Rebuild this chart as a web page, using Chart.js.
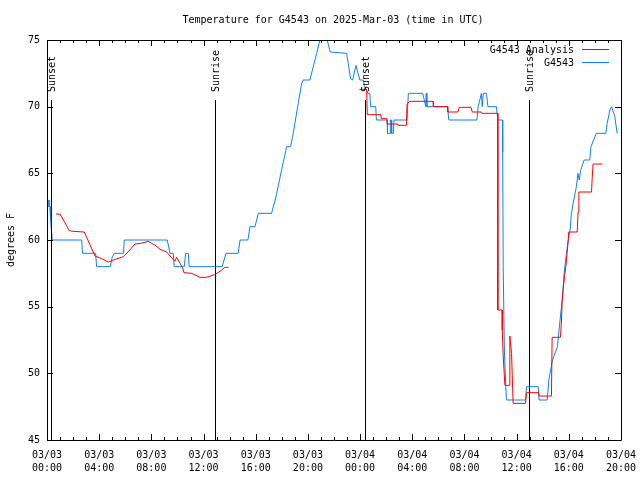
<!DOCTYPE html>
<html>
<head>
<meta charset="utf-8">
<title>Temperature for G4543</title>
<script src="https://cdn.jsdelivr.net/npm/chart.js@4/dist/chart.umd.min.js"></script>
<style>
  body { margin: 0; background: #fff; }
  canvas { display: block; }
</style>
</head>
<body>
<canvas id="tempChart" width="640" height="480"></canvas>
<script>
// hours since 03/03 00:00 UTC, temps in degrees F
const obsHours = [0.15, 0.15, 0.23, 0.23, 0.3, 0.36, 0.36, 2.66, 2.72, 3.73, 3.8, 4.85, 5.0, 5.15, 5.87, 5.92,
    9.22, 9.43, 9.68, 9.75, 10.52, 10.63, 10.83, 10.9, 13.43, 13.72, 14.66, 14.8, 15.4, 15.56, 15.94, 16.2,
    17.22, 17.34, 17.47, 17.72, 17.98, 18.24, 18.37, 18.67, 18.83, 19.0, 19.26, 19.52, 19.64, 20.15, 20.41,
    20.67, 20.92, 21.19, 21.48, 21.71, 22.97, 23.09, 23.27, 23.43, 23.68, 23.98, 24.24, 24.35, 24.6, 24.75,
    24.8, 25.2, 25.25, 26.08, 26.1, 26.3, 26.32, 26.4, 26.42, 26.55, 26.6, 27.6, 27.7, 28.8, 29.04, 29.07,
    29.12, 30.7, 30.8, 32.95, 33.05, 33.3, 33.36, 33.45, 33.69, 33.8, 34.45, 34.56, 34.92, 34.93, 34.97,
    35.06, 35.17, 35.22, 36.68, 36.76, 37.65, 37.72, 38.34, 38.47, 38.75, 39.13, 39.3, 39.5, 39.64, 39.82,
    40.0, 40.1, 40.2, 40.38, 40.58, 40.7, 40.8, 40.9, 41.17, 41.6, 41.7, 42.1, 42.84, 42.94, 43.15, 43.28,
    43.53, 43.7];
const obsTemps = [63, 62.5, 62.5, 61.6, 61.6, 60.5, 60, 60, 59, 59, 58, 58, 58.7, 59, 59, 60,
    60, 59, 59, 58, 58, 59, 59, 58, 58, 59, 59, 60, 60, 61, 61, 62,
    62, 62.5, 62.9, 64, 65.25, 66.4, 67, 67, 67.75, 68.75, 70.25, 71.75, 72, 72, 73,
    74, 75, 75.6, 75, 74.1, 74, 73.25, 72.1, 72, 73.1, 72, 72, 71.5, 71, 71,
    70, 70, 69, 69, 68, 68, 69, 69, 68, 68, 69, 69, 71, 71, 70, 71,
    70, 70, 69, 69, 70, 71, 70, 71, 71, 70, 70, 69, 69, 66.6, 58,
    51.75, 49, 48, 48, 49, 49, 48, 48, 49.5, 51, 52, 53.75, 55.5, 57.5, 59,
    60.25, 60.75, 62, 63, 64, 65, 64.5, 65.2, 66, 66, 67, 68, 68, 68.75, 69.75, 70,
    69.25, 68];

const anaHours = [0.69, 1.0, 1.71, 2.0, 2.86, 3.68, 4.2, 4.7, 5.1, 5.85, 6.3, 6.74, 7.2, 7.76, 8.3, 8.66,
    9.17, 9.8, 9.94, 10.4, 10.5, 11.1, 11.72, 12.2, 12.87, 13.4, 13.64, 13.92,
    18.0,
    23.95, 24.5, 24.55, 25.6, 25.62, 26.05, 26.07, 26.9, 26.92, 27.55, 27.6, 27.8, 29.6, 29.62, 30.7, 30.72,
    31.5, 31.6, 32.5, 32.6, 33.3, 33.35, 34.55, 34.56, 34.89, 34.9, 34.97, 35.1, 35.43, 35.48, 35.61, 35.73,
    36.68, 36.76, 37.7, 37.72, 38.67, 38.72, 39.36, 39.44, 39.49, 39.64, 39.77, 39.87, 40.0, 40.64, 40.71,
    40.77, 41.74, 41.79, 41.86, 42.58];
const anaTemps = [61.95, 61.95, 60.7, 60.65, 60.6, 58.8, 58.6, 58.35, 58.5, 58.75, 59.2, 59.7, 59.75, 59.9, 59.6, 59.3,
    59.1, 58.4, 58.7, 57.9, 57.55, 57.5, 57.2, 57.2, 57.4, 57.75, 57.95, 57.95,
    null,
    71.3, 71.3, 69.4, 69.4, 69.1, 69.1, 68.7, 68.7, 68.6, 68.6, 70.2, 70.4, 70.4, 70.0, 70.0, 69.6,
    69.6, 69.95, 69.95, 69.6, 69.6, 69.5, 69.5, 54.75, 54.75, 53.25, 51.3, 49.1, 49.1, 52.8, 51.5, 47.75,
    47.75, 48.55, 48.55, 48.3, 48.3, 52.7, 52.7, 54, 55.5, 57, 58, 59, 60.6, 60.6, 62.1,
    63.6, 63.6, 64.6, 65.7, 65.7];

const sunHours = [0.34, 12.9, 24.39, 36.97];
const sunLabels = ['Sunset', 'Sunrise', 'Sunset', 'Sunrise'];

const xTickLabels = [
    ['03/03', '00:00'], ['03/03', '04:00'], ['03/03', '08:00'], ['03/03', '12:00'],
    ['03/03', '16:00'], ['03/03', '20:00'], ['03/04', '00:00'], ['03/04', '04:00'],
    ['03/04', '08:00'], ['03/04', '12:00'], ['03/04', '16:00'], ['03/04', '20:00']
];

const FONT = "'DejaVu Sans Mono', 'Liberation Mono', monospace";

function toPoints(hours, temps) {
    return hours.map((h, i) => ({ x: h, y: temps[i] }));
}

// frame, inward ticks on all four sides, sun lines, title and legend
const decorations = {
    id: 'decorations',
    afterDraw(chart) {
        const ctx = chart.ctx;
        const area = chart.chartArea;
        const xs = chart.scales.x;
        const ys = chart.scales.y;
        ctx.save();
        ctx.strokeStyle = '#000';
        ctx.lineWidth = 1;

        ctx.beginPath();
        ctx.rect(Math.round(area.left) + 0.5, Math.round(area.top) + 0.5,
            Math.round(area.right - area.left), Math.round(area.bottom - area.top));
        ctx.stroke();

        ctx.beginPath();
        for (let h = 0; h <= 44; h++) {
            const px = Math.round(xs.getPixelForValue(h)) + 0.5;
            const len = h % 4 === 0 ? 6 : 3;
            ctx.moveTo(px, area.bottom);
            ctx.lineTo(px, area.bottom - len);
            ctx.moveTo(px, area.top);
            ctx.lineTo(px, area.top + len);
        }
        for (let t = 45; t <= 75; t += 5) {
            const py = Math.round(ys.getPixelForValue(t)) + 0.5;
            ctx.moveTo(area.left, py);
            ctx.lineTo(area.left + 6, py);
            ctx.moveTo(area.right, py);
            ctx.lineTo(area.right - 6, py);
        }
        ctx.stroke();

        ctx.font = '10px ' + FONT;
        ctx.fillStyle = '#000';
        sunHours.forEach((h, i) => {
            const px = Math.round(xs.getPixelForValue(h)) + 0.5;
            ctx.beginPath();
            ctx.moveTo(px, ys.getPixelForValue(70.5));
            ctx.lineTo(px, area.bottom);
            ctx.stroke();
            ctx.save();
            ctx.translate(px + 1, ys.getPixelForValue(70.5) - 8);
            ctx.rotate(-Math.PI / 2);
            ctx.textAlign = 'left';
            ctx.textBaseline = 'middle';
            ctx.fillText(sunLabels[i], 0, 0);
            ctx.restore();
        });

        ctx.textAlign = 'center';
        ctx.textBaseline = 'middle';
        ctx.fillText('Temperature for G4543 on 2025-Mar-03 (time in UTC)', 333, 20);

        const items = chart.data.datasets;
        items.forEach((ds, i) => {
            const y = 50 + i * 13;
            ctx.textAlign = 'right';
            ctx.fillStyle = '#000';
            ctx.fillText(ds.label, 574, y);
            ctx.strokeStyle = ds.borderColor;
            ctx.beginPath();
            ctx.moveTo(582, y - 0.5);
            ctx.lineTo(609, y - 0.5);
            ctx.stroke();
        });
        ctx.restore();
    }
};

const ctx = document.getElementById('tempChart').getContext('2d');
new Chart(ctx, {
    type: 'line',
    data: {
        datasets: [{
            label: 'G4543 Analysis',
            data: toPoints(anaHours, anaTemps),
            borderColor: '#ff0000',
            borderWidth: 1,
            pointRadius: 0,
            tension: 0,
            spanGaps: false
        }, {
            label: 'G4543',
            data: toPoints(obsHours, obsTemps),
            borderColor: '#0a80ff',
            borderWidth: 1,
            pointRadius: 0,
            tension: 0
        }]
    },
    options: {
        responsive: false,
        animation: false,
        layout: { padding: { top: 40, right: 19, left: 0, bottom: 0 } },
        plugins: {
            legend: { display: false },
            title: { display: false },
            tooltip: { enabled: false }
        },
        scales: {
            x: {
                type: 'linear',
                min: 0,
                max: 44,
                grid: { display: false, drawTicks: false, tickLength: 0 },
                border: { display: false },
                ticks: {
                    stepSize: 4,
                    autoSkip: false,
                    maxRotation: 0,
                    padding: 9,
                    color: '#000',
                    font: { family: FONT, size: 10, lineHeight: 1.3 },
                    callback: (v) => xTickLabels[Math.round(v / 4)]
                },
                afterFit: (s) => { s.height = 40; s.paddingLeft = 0; s.paddingRight = 0; }
            },
            y: {
                min: 45,
                max: 75,
                grid: { display: false, drawTicks: false, tickLength: 0 },
                border: { display: false },
                ticks: {
                    stepSize: 5,
                    padding: 7,
                    color: '#000',
                    font: { family: FONT, size: 10 }
                },
                title: {
                    display: true,
                    text: 'degrees F',
                    color: '#000',
                    font: { family: FONT, size: 10 },
                    padding: { top: 5, bottom: 0 }
                },
                afterFit: (s) => { s.width = 47; s.paddingTop = 0; s.paddingBottom = 0; }
            }
        }
    },
    plugins: [decorations]
});
</script>
</body>
</html>
